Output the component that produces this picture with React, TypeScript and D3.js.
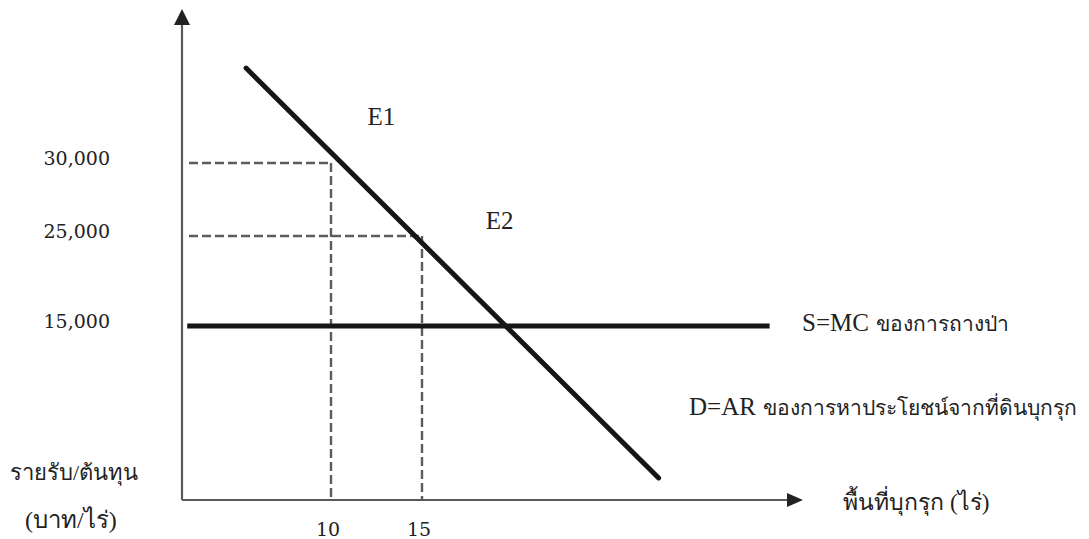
import React from "react";
import * as d3 from "d3";

// ---- data ----
const xTicks = [10, 15];
const yTicks = [15000, 25000, 30000];
const yTickLabels = ["15,000", "25,000", "30,000"];
const equilibria = [
  { name: "E1", x: 10, y: 30000, labelX: 12.0, labelY: 32600 },
  { name: "E2", x: 15, y: 25000, labelX: 18.5, labelY: 25500 },
];
const demandLine = [
  { x: 4.3, y: 36500 },
  { x: 28.0, y: 1900 },
];
const supplyLine = [
  { x: 0.35, y: 15000 },
  { x: 34.1, y: 15000 },
];
const supplyLabel = ["S=MC", "ของการถางป่า"];
const demandLabel = ["D=AR", "ของการหาประโยชน์จากที่ดินบุกรุก"];
const xTitle = ["พื้นที่บุกรุก", "(ไร่)"];
const yTitle = ["รายรับ/ต้นทุน", "(บาท/ไร่)"];

const W = 1089;
const H = 539;

const SERIF = "'Liberation Serif', 'Times New Roman', serif";
const NUM = "'DejaVu Serif', serif";
const THAI = 21;

export default function App() {
  // schematic (piecewise) scales as in the hand-drawn figure
  const x = d3.scaleLinear().domain([0, 10, 15]).range([182, 331, 422]);
  const y = d3.scaleLinear().domain([0, 15000, 25000, 30000]).range([500, 326, 236, 163]);

  const x0 = x(0);
  const y0 = y(0);
  const xEnd = 803;
  const yTop = 9;

  const line = d3
    .line<{ x: number; y: number }>()
    .x((d) => x(d.x))
    .y((d) => y(d.y));

  return (
    <svg
      width={W}
      height={H}
      viewBox={`0 0 ${W} ${H}`}
      style={{ position: "absolute", left: 0, top: 0, background: "#fff" }}
    >
      {/* guides */}
      {equilibria.map((e) => (
        <g key={e.name} stroke="#5c5c5c" strokeWidth={2.4} strokeDasharray="9,4" fill="none">
          <path d={`M${x0 + 7},${y(e.y)}H${x(e.x)}`} />
          <path d={`M${x(e.x)},${y(e.y)}V${y0}`} />
        </g>
      ))}

      {/* axes */}
      <g stroke="#5a5a5a" strokeWidth={2.2} fill="none">
        <path d={`M${x0},${y0}V${yTop + 14}`} />
        <path d={`M${x0},${y0}H${xEnd - 14}`} />
      </g>
      <path d={`M${x0},${yTop}L${x0 - 8},${yTop + 16}L${x0 + 8},${yTop + 16}Z`} fill="#222" />
      <path d={`M${xEnd},${y0}L${xEnd - 16},${y0 - 7}L${xEnd - 16},${y0 + 7}Z`} fill="#222" />

      {/* supply & demand */}
      <path d={line(supplyLine) || ""} stroke="#161616" strokeWidth={5} fill="none" />
      <path
        d={line(demandLine) || ""}
        stroke="#161616"
        strokeWidth={5}
        strokeLinecap="round"
        fill="none"
      />

      {/* y tick labels */}
      {yTicks.map((v, i) => (
        <text
          key={v}
          x={110}
          y={y(v) + 2}
          textAnchor="end"
          fontFamily={NUM}
          fontSize={19}
          fill="#222"
        >
          {yTickLabels[i]}
        </text>
      ))}

      {/* x tick labels */}
      {xTicks.map((v) => (
        <text
          key={v}
          x={x(v) - 3}
          y={536}
          textAnchor="middle"
          fontFamily={NUM}
          fontSize={19}
          fill="#222"
        >
          {v}
        </text>
      ))}

      {/* equilibrium labels */}
      {equilibria.map((e) => (
        <text key={e.name} x={x(e.labelX)} y={y(e.labelY)} fontFamily={SERIF} fontSize={25} fill="#222">
          {e.name}
        </text>
      ))}

      {/* curve labels */}
      <text x={802} y={331} fontFamily={SERIF} fontSize={25} fill="#222">
        {supplyLabel[0]}
        <tspan dx={7} fontSize={THAI}>{supplyLabel[1]}</tspan>
      </text>
      <text x={689} y={415} fontFamily={SERIF} fontSize={25} fill="#222">
        {demandLabel[0]}
        <tspan dx={7} fontSize={THAI}>{demandLabel[1]}</tspan>
      </text>

      {/* axis titles */}
      <text x={843} y={510} fontFamily={SERIF} fontSize={23} fill="#222">
        {xTitle[0]}
        <tspan dx={6}>{xTitle[1]}</tspan>
      </text>
      <text x={10} y={480} fontFamily={SERIF} fontSize={22} fill="#222">
        {yTitle[0]}
      </text>
      <text x={25} y={528} fontFamily={SERIF} fontSize={24} fill="#222">
        {yTitle[1]}
      </text>
    </svg>
  );
}
